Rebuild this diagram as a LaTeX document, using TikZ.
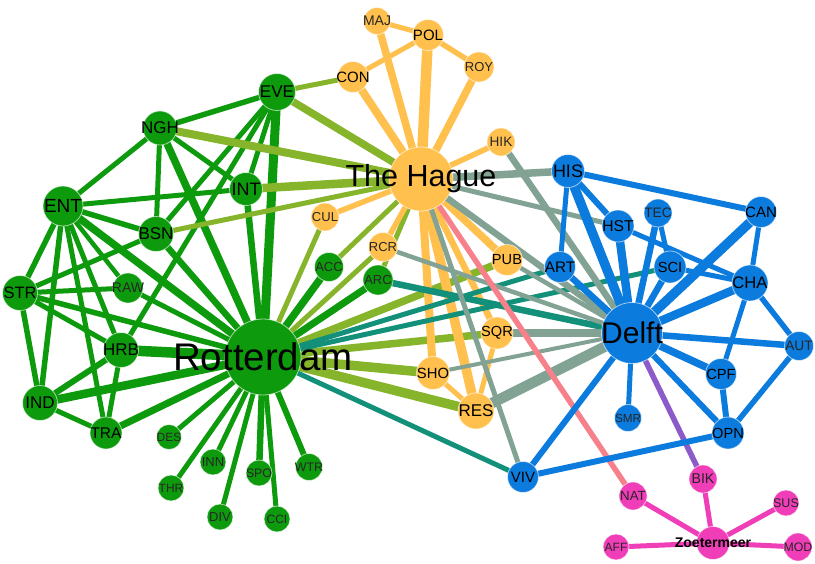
\documentclass[tikz,border=0pt]{standalone}
\usepackage{fontspec}
\setmainfont{Liberation Sans}
\begin{document}
\pgfdeclarelayer{bg}
\pgfdeclarelayer{edges}
\pgfdeclarelayer{labels}
\pgfsetlayers{bg,edges,main,labels}
\definecolor{cgreen}{HTML}{0D9A0D}
\definecolor{corange}{HTML}{FFC04D}
\definecolor{cblue}{HTML}{0B7BDD}
\definecolor{cpink}{HTML}{F03DB8}
\definecolor{colive}{HTML}{86B42A}
\definecolor{cteal}{HTML}{12907A}
\definecolor{cgrey}{HTML}{82A394}
\definecolor{csalmon}{HTML}{F7818A}
\definecolor{cpurple}{HTML}{8C5BC9}
\tikzset{
  vtx/.style={circle, inner sep=0pt, draw=white, draw opacity=0.6, line width=0.8pt},
  gg/.style={draw=cgreen}, oo/.style={draw=corange}, bb/.style={draw=cblue},
  pp/.style={draw=cpink}, go/.style={draw=colive}, gb/.style={draw=cteal},
  ob/.style={draw=cgrey}, op/.style={draw=csalmon}, bp/.style={draw=cpurple},
  dk/.style={text=black}, lt/.style={text=black!85}
}
% \nd{name}{x,y}{radius}{fill}{font size}{label}{text style}
\newcommand\nd[7]{%
  \node[vtx, fill=#4, minimum size=2*#3pt] (#1) at (#2) {};
  \begin{pgfonlayer}{labels}
    \node[inner sep=0pt, #7, font=\fontsize{#5}{#5}\selectfont] (#1-t) at (#1) {#6};
  \end{pgfonlayer}}
% \lk{style}{from}{to}{width}
\newcommand\lk[4]{\draw[#1, line width=#4pt] (#2.center) -- (#3.center);}
\begin{tikzpicture}[x=1pt, y=-1pt]
\useasboundingbox (0,0) rectangle (815,563);
\begin{pgfonlayer}{bg}
\fill[white] (0,0) rectangle (815,563);
\end{pgfonlayer}

% hubs
\nd{ROT}{263,357}{38}{cgreen}{38.5}{Rotterdam}{dk}
\nd{HAG}{421,179}{32}{corange}{30.5}{The Hague}{dk}
\nd{DEL}{632,333}{30.5}{cblue}{30}{Delft}{dk}
\nd{ZOE}{713,543}{16.5}{cpink}{14}{\bfseries Zoetermeer}{dk}

% Rotterdam group
\nd{EVE}{277,92}{18.5}{cgreen}{17}{EVE}{dk}
\nd{NGH}{160,128}{17}{cgreen}{17}{NGH}{dk}
\nd{INT}{246,189}{16.5}{cgreen}{18}{INT}{dk}
\nd{ENT}{63,206}{20}{cgreen}{19}{ENT}{dk}
\nd{BSN}{156,234}{17.5}{cgreen}{17}{BSN}{dk}
\nd{STR}{20,293}{17.5}{cgreen}{16.5}{STR}{dk}
\nd{RAW}{128,288}{15}{cgreen}{14}{RAW}{lt}
\nd{HRB}{121,350}{17.5}{cgreen}{17}{HRB}{dk}
\nd{IND}{40,403}{17.5}{cgreen}{17}{IND}{dk}
\nd{TRA}{106,433}{16}{cgreen}{15.5}{TRA}{dk}
\nd{DES}{169,437}{12.5}{cgreen}{12}{DES}{lt}
\nd{THR}{171,488}{13}{cgreen}{12}{THR}{lt}
\nd{INN}{213,462}{13}{cgreen}{13}{INN}{lt}
\nd{DIV}{220,517}{13}{cgreen}{13}{DIV}{lt}
\nd{SPO}{259,473}{13}{cgreen}{12.3}{SPO}{lt}
\nd{CCI}{277,519}{13}{cgreen}{12}{CCI}{lt}
\nd{WTR}{309,467}{13.5}{cgreen}{12.4}{WTR}{lt}
\nd{ACC}{329,267}{14.5}{cgreen}{13}{ACC}{lt}
\nd{ARC}{378,280}{15}{cgreen}{13}{ARC}{lt}

% The Hague group
\nd{MAJ}{377,21}{13.5}{corange}{14}{MAJ}{lt}
\nd{POL}{428,35}{15.5}{corange}{15}{POL}{dk}
\nd{ROY}{479,67}{15}{corange}{13}{ROY}{lt}
\nd{CON}{353,77}{15.5}{corange}{15}{CON}{dk}
\nd{HIK}{501,142}{14}{corange}{13.6}{HIK}{lt}
\nd{CUL}{325,217}{14}{corange}{13}{CUL}{lt}
\nd{RCR}{383,247}{14.5}{corange}{13}{RCR}{lt}
\nd{PUB}{507,260}{15.5}{corange}{14.6}{PUB}{dk}
\nd{SQR}{497,333}{16}{corange}{14.6}{SQR}{dk}
\nd{SHO}{433,373}{16.5}{corange}{14.8}{SHO}{dk}
\nd{RES}{476,411}{18}{corange}{17}{RES}{dk}

% Delft group
\nd{HIS}{568,171}{16.5}{cblue}{18}{HIS}{dk}
\nd{TEC}{658,213}{14}{cblue}{13.7}{TEC}{lt}
\nd{CAN}{761,212}{15.5}{cblue}{15}{CAN}{dk}
\nd{HST}{618,226}{16}{cblue}{15.7}{HST}{dk}
\nd{ART}{560,267}{15.5}{cblue}{15.3}{ART}{dk}
\nd{SCI}{670,267}{16}{cblue}{14.6}{SCI}{dk}
\nd{CHA}{750,283}{18}{cblue}{16.6}{CHA}{dk}
\nd{AUT}{799,346}{14.5}{cblue}{13.7}{AUT}{lt}
\nd{CPF}{721,374}{15.5}{cblue}{14.7}{CPF}{dk}
\nd{SMR}{628,418}{13.5}{cblue}{11.7}{SMR}{lt}
\nd{OPN}{728,433}{16}{cblue}{14.6}{OPN}{dk}
\nd{VIV}{523,477}{15.5}{cblue}{15}{VIV}{dk}

% Zoetermeer group
\nd{NAT}{633,496}{14}{cpink}{13.3}{NAT}{lt}
\nd{BIK}{703,479}{14}{cpink}{14.2}{BIK}{lt}
\nd{SUS}{786,503}{13}{cpink}{12.5}{SUS}{lt}
\nd{AFF}{616,547}{13}{cpink}{12}{AFF}{lt}
\nd{MOD}{798,547}{14}{cpink}{12.3}{MOD}{lt}

\begin{pgfonlayer}{edges}
% Rotterdam group links
\lk{gg}{ENT}{NGH}{5}
\lk{gg}{ENT}{INT}{5}
\lk{gg}{ENT}{BSN}{5.5}
\lk{gg}{ENT}{STR}{5.5}
\lk{gg}{ENT}{IND}{5.5}
\lk{gg}{ENT}{TRA}{5}
\lk{gg}{ENT}{HRB}{5}
\lk{gg}{ENT}{RAW}{4.5}
\lk{gg}{ENT}{ROT}{7.5}
\lk{gg}{NGH}{EVE}{5.5}
\lk{gg}{NGH}{INT}{5}
\lk{gg}{NGH}{BSN}{5}
\lk{gg}{NGH}{ROT}{7.5}
\lk{gg}{EVE}{INT}{5}
\lk{gg}{EVE}{BSN}{5}
\lk{gg}{EVE}{HRB}{5}
\lk{gg}{EVE}{ROT}{9}
\lk{gg}{INT}{ROT}{6.5}
\lk{gg}{BSN}{STR}{5}
\lk{gg}{BSN}{ROT}{6.5}
\lk{gg}{STR}{RAW}{5}
\lk{gg}{STR}{HRB}{5}
\lk{gg}{STR}{ROT}{5.5}
\lk{gg}{STR}{IND}{5.5}
\lk{gg}{RAW}{ROT}{5}
\lk{gg}{HRB}{ROT}{10.5}
\lk{gg}{HRB}{IND}{6}
\lk{gg}{HRB}{TRA}{5}
\lk{gg}{IND}{TRA}{5}
\lk{gg}{IND}{ROT}{8.5}
\lk{gg}{TRA}{ROT}{7}
\lk{gg}{ROT}{DES}{5}
\lk{gg}{ROT}{THR}{5}
\lk{gg}{ROT}{INN}{5}
\lk{gg}{ROT}{DIV}{5}
\lk{gg}{ROT}{SPO}{6.5}
\lk{gg}{ROT}{CCI}{5}
\lk{gg}{ROT}{WTR}{6}
\lk{gg}{ROT}{ACC}{7.5}
\lk{gg}{ROT}{ARC}{7}
% Rotterdam group to The Hague group
\lk{go}{EVE}{CON}{5}
\lk{go}{EVE}{HAG}{7.5}
\lk{go}{NGH}{HAG}{8}
\lk{go}{INT}{HAG}{8.5}
\lk{go}{BSN}{HAG}{5}
\lk{go}{ROT}{CUL}{5}
\lk{go}{ACC}{HAG}{5}
\lk{go}{ARC}{HAG}{5}
\lk{go}{ROT}{RCR}{5}
\lk{go}{ROT}{PUB}{7.5}
\lk{go}{ROT}{SQR}{7.5}
\lk{go}{ROT}{SHO}{9.5}
\lk{go}{ROT}{RES}{9.5}
% The Hague group links
\lk{oo}{HAG}{CON}{8}
\lk{oo}{HAG}{MAJ}{7.5}
\lk{oo}{HAG}{POL}{10.5}
\lk{oo}{HAG}{ROY}{7.5}
\lk{oo}{HAG}{HIK}{5.5}
\lk{oo}{HAG}{CUL}{5.5}
\lk{oo}{HAG}{RCR}{5.5}
\lk{oo}{HAG}{PUB}{7.5}
\lk{oo}{HAG}{SQR}{6.5}
\lk{oo}{HAG}{SHO}{8}
\lk{oo}{HAG}{RES}{9.5}
\lk{oo}{MAJ}{POL}{5}
\lk{oo}{CON}{POL}{5}
\lk{oo}{POL}{ROY}{5.5}
\lk{oo}{SHO}{RES}{5}
\lk{oo}{SQR}{RES}{5}
% Rotterdam group to Delft group
\lk{gb}{ARC}{DEL}{6.5}
\lk{gb}{ROT}{ART}{5}
\lk{gb}{ROT}{SCI}{5}
\lk{gb}{ROT}{VIV}{5}
% The Hague group to Delft group
\lk{ob}{HAG}{HIS}{7.5}
\lk{ob}{HAG}{HST}{5}
\lk{ob}{HAG}{DEL}{6.5}
\lk{ob}{HAG}{VIV}{5}
\lk{ob}{HIK}{DEL}{6.5}
\lk{ob}{RCR}{DEL}{4.5}
\lk{ob}{PUB}{DEL}{4.5}
\lk{ob}{SHO}{DEL}{4}
\lk{ob}{SQR}{DEL}{7.5}
\lk{ob}{RES}{DEL}{10.5}
% links to the Zoetermeer group
\lk{op}{HAG}{NAT}{5.5}
\lk{bp}{DEL}{BIK}{5.5}
% Delft group links
\lk{bb}{DEL}{HIS}{9.5}
\lk{bb}{DEL}{HST}{8.5}
\lk{bb}{DEL}{ART}{6.5}
\lk{bb}{DEL}{TEC}{6.5}
\lk{bb}{DEL}{SCI}{6.5}
\lk{bb}{DEL}{CAN}{9.5}
\lk{bb}{DEL}{CHA}{8.5}
\lk{bb}{DEL}{AUT}{6.5}
\lk{bb}{DEL}{CPF}{7.5}
\lk{bb}{DEL}{SMR}{5}
\lk{bb}{DEL}{OPN}{6}
\lk{bb}{DEL}{VIV}{6}
\lk{bb}{HIS}{CAN}{6}
\lk{bb}{HIS}{HST}{6}
\lk{bb}{HIS}{ART}{5}
\lk{bb}{HST}{CHA}{5}
\lk{bb}{TEC}{SCI}{5}
\lk{bb}{SCI}{CHA}{5}
\lk{bb}{CAN}{CHA}{5}
\lk{bb}{CHA}{AUT}{5.5}
\lk{bb}{CHA}{CPF}{5}
\lk{bb}{CPF}{OPN}{6}
\lk{bb}{AUT}{OPN}{5.5}
\lk{bb}{OPN}{VIV}{6}
% Zoetermeer group links
\lk{pp}{ZOE}{NAT}{5}
\lk{pp}{ZOE}{BIK}{5}
\lk{pp}{ZOE}{SUS}{5}
\lk{pp}{ZOE}{AFF}{5}
\lk{pp}{ZOE}{MOD}{5}
\end{pgfonlayer}
\end{tikzpicture}
\end{document}
